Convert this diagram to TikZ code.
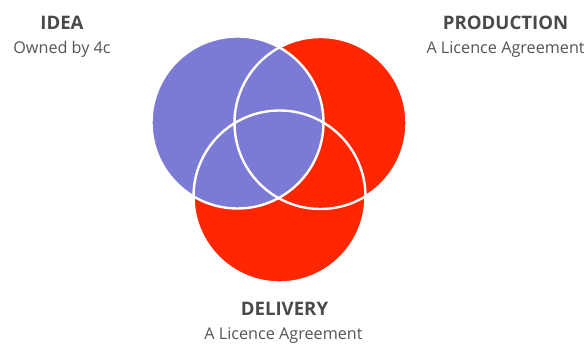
\documentclass[tikz,border=0pt]{standalone}
\usepackage{fontspec}
\setmainfont{Open Sans}
\definecolor{ideablue}{HTML}{7B7AD4}
\definecolor{venred}{HTML}{FF2600}
\definecolor{headgray}{HTML}{4A4A4A}
\definecolor{subgray}{HTML}{555555}
\begin{document}
\begin{tikzpicture}[x=1pt,y=-1pt,
  disc/.style={circle,inner sep=0pt,minimum size=172pt},
  ring/.style={draw=white,line width=2.4pt},
  heading/.style={font=\fontsize{18.6}{22}\selectfont\bfseries,text=headgray,inner sep=0pt,anchor=base},
  subline/.style={font=\fontsize{16.2}{19}\selectfont,text=subgray,inner sep=0pt,anchor=base}]
  \useasboundingbox[fill=white] (0,0) rectangle (587,347);
  % coloured discs: the two red ones first, the purple one on top
  \node[disc,fill=venred] (prod) at (320.5,123) {};
  \node[disc,fill=venred] (deliv) at (279.5,196.5) {};
  \node[disc,fill=ideablue] (idea) at (237.5,122.5) {};
  % white outlines of all three discs
  \draw[ring] (prod.center) circle[radius=86];
  \draw[ring] (deliv.center) circle[radius=86];
  \draw[ring] (idea.center) circle[radius=86];
  % labels
  \node[heading] (ideaT) at (62,29.5) {IDEA};
  \node[subline] (ideaS) at (62,53.5) {Owned by 4c};
  \node[heading] (prodT) at (505.6,30) {PRODUCTION};
  \node[subline] (prodS) at (505.6,53.5) {A Licence Agreement};
  \node[heading] (delT) at (284.5,316) {DELIVERY};
  \node[subline] (delS) at (283.5,340) {A Licence Agreement};
\end{tikzpicture}
\end{document}
